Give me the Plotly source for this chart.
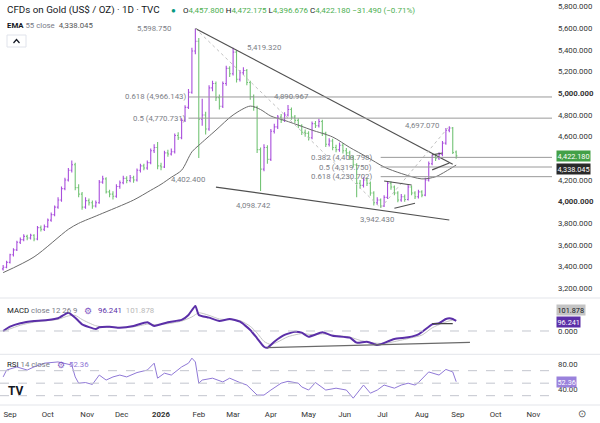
import pandas as pd
import plotly.graph_objects as go
from plotly.subplots import make_subplots

# Gold CFD, one bar per 2 sessions, 26 Aug 2025 -> 31 Aug 2026
opens = [3380, 3395, 3440, 3510, 3555, 3625, 3650, 3680, 3665, 3690,
         3655, 3760, 3745, 3770, 3830, 3880, 3950, 4015, 4120, 4200,
         4290, 4340, 4130, 4070, 3950, 4010, 3990, 3960, 3990, 4180,
         4210, 4090, 4070, 4050, 4140, 4175, 4215, 4195, 4220, 4200,
         4290, 4330, 4310, 4360, 4470, 4500, 4330, 4320, 4450, 4440,
         4460, 4610, 4590, 4750, 4870, 5010, 5390, 5480, 4760, 4800,
         4670, 5050, 5090, 4960, 4880, 5090, 5230, 5180, 5380, 5130,
         5190, 5210, 5100, 4970, 4870, 4480, 4300, 4500, 4390, 4650,
         4690, 4780, 4750, 4800, 4850, 4780, 4750, 4700, 4640, 4630,
         4590, 4720, 4700, 4740, 4630, 4530, 4560, 4500, 4480, 4520,
         4470, 4450, 4410, 4340, 4170, 4150, 4200, 4170, 4080, 3990,
         4015, 3960, 4040, 4170, 4135, 4080, 4015, 4045, 4020, 4135,
         4080, 4045, 4090, 4060, 4200, 4350, 4410, 4400, 4435, 4540,
         4660, 4680, 4457.80]
highs = [3415, 3455, 3520, 3570, 3640, 3670, 3700, 3695, 3705, 3700,
         3775, 3780, 3790, 3845, 3900, 3965, 4040, 4140, 4220, 4310,
         4381, 4360, 4160, 4090, 4040, 4030, 4010, 4010, 4200, 4240,
         4225, 4110, 4095, 4160, 4195, 4240, 4235, 4245, 4240, 4305,
         4350, 4350, 4380, 4490, 4530, 4550, 4360, 4470, 4480, 4490,
         4630, 4640, 4770, 4890, 5040, 5420, 5598.75, 5510, 4950, 4830,
         5075, 5115, 5110, 4990, 5110, 5255, 5250, 5419.32, 5395, 5215,
         5240, 5225, 5115, 4990, 4885, 4500, 4530, 4520, 4670, 4720,
         4800, 4810, 4825, 4890.967, 4870, 4800, 4770, 4715, 4665, 4650,
         4740, 4745, 4765, 4755, 4645, 4585, 4580, 4525, 4545, 4540,
         4495, 4470, 4425, 4355, 4200, 4225, 4220, 4185, 4095, 4040,
         4030, 4060, 4190, 4185, 4150, 4095, 4070, 4065, 4155, 4150,
         4095, 4110, 4105, 4220, 4370, 4435, 4440, 4455, 4560, 4680,
         4697.07, 4690, 4472.175]
lows = [3365, 3385, 3430, 3495, 3545, 3610, 3635, 3645, 3650, 3635,
        3645, 3725, 3730, 3760, 3815, 3865, 3935, 4000, 4105, 4185,
        4270, 4105, 4040, 3925, 3935, 3965, 3935, 3945, 3980, 4165,
        4075, 4040, 4020, 4035, 4120, 4160, 4170, 4180, 4175, 4185,
        4270, 4290, 4295, 4345, 4450, 4300, 4290, 4310, 4415, 4425,
        4445, 4570, 4575, 4735, 4855, 4995, 5360, 4402.4, 4700, 4620,
        4655, 5020, 4930, 4850, 4865, 5070, 5150, 5165, 5100, 5110,
        5170, 5075, 4940, 4840, 4450, 4098.742, 4280, 4350, 4375, 4630,
        4670, 4725, 4735, 4785, 4755, 4725, 4680, 4615, 4600, 4565,
        4575, 4680, 4685, 4605, 4505, 4510, 4475, 4455, 4460, 4445,
        4425, 4385, 4315, 4040, 4120, 4130, 4145, 4055, 3965, 3970,
        3942.43, 3950, 4025, 4110, 4060, 3995, 4000, 4000, 4010, 4060,
        4025, 4030, 4040, 4050, 4185, 4335, 4375, 4385, 4420, 4525,
        4640, 4440, 4396.676]
closes = [3395, 3440, 3510, 3555, 3625, 3650, 3680, 3665, 3690, 3655,
          3760, 3745, 3770, 3830, 3880, 3950, 4015, 4120, 4200, 4290,
          4340, 4130, 4070, 3950, 4010, 3990, 3960, 3990, 4180, 4210,
          4090, 4070, 4050, 4140, 4175, 4215, 4195, 4220, 4200, 4290,
          4330, 4310, 4360, 4470, 4500, 4330, 4320, 4450, 4440, 4460,
          4610, 4590, 4750, 4870, 5010, 5390, 5480, 4760, 4800, 4670,
          5050, 5090, 4960, 4880, 5090, 5230, 5180, 5380, 5130, 5190,
          5210, 5100, 4970, 4870, 4480, 4300, 4500, 4390, 4650, 4690,
          4780, 4750, 4800, 4850, 4780, 4750, 4700, 4640, 4630, 4590,
          4720, 4700, 4740, 4630, 4530, 4560, 4500, 4480, 4520, 4470,
          4450, 4410, 4340, 4170, 4150, 4200, 4170, 4080, 3990, 4015,
          3960, 4040, 4170, 4135, 4080, 4015, 4045, 4020, 4135, 4080,
          4045, 4090, 4060, 4200, 4350, 4410, 4400, 4435, 4540, 4660,
          4680, 4453.67, 4422.18]

dates = pd.bdate_range(end="2026-08-31", periods=2 * len(closes) - 1)[::2]

# EMA 55 (bar index -> value)
ema_idx = [0, 9, 19, 22, 28, 38, 43, 46, 49, 52, 55, 57, 62, 67, 72, 75, 78, 82, 87, 90,
           96, 101, 106, 111, 116, 122, 126, 129, 132]
ema_val = [3345, 3490, 3745, 3800, 3880, 4015, 4105, 4160, 4225, 4290, 4460, 4520, 4660, 4800,
           4882, 4850, 4790, 4750, 4695, 4660, 4597, 4500, 4412, 4320, 4260, 4210, 4230, 4280,
           4338.045]

# MACD 12 26 9
macd_idx = [0, 2, 5, 9, 13, 16, 18, 19, 21, 23, 27, 28, 31, 34, 38, 42, 44, 48, 52, 54,
            56, 57, 60, 63, 66, 69, 72, 74, 76, 77, 79, 82, 85, 87, 89, 93, 96, 101, 103, 106,
            109, 110, 114, 118, 121, 125, 127, 129, 130, 131, 132]
macd_val = [0, 41, 74, 96, 106, 122, 160, 176, 128, 64, 19, 36, 41, 32, 48, 84, 48, 84, 106, 154,
            240, 154, 128, 96, 115, 89, 10, -70, -151, -160, -103, -38, -7, -16, -55, -13, -45,
            -64, -112, -103, -135, -128, -77, -61, -32, 64, 74, 115, 122, 115, 96.241]
sig_idx = [0, 5, 9, 13, 16, 19, 21, 23, 27, 31, 38, 42, 44, 48, 52, 55, 57, 60, 63, 66,
           69, 72, 74, 76, 78, 80, 83, 87, 90, 93, 96, 101, 104, 108, 111, 115, 119, 122, 125, 128,
           131, 132]
sig_val = [-5, 55, 85, 100, 112, 145, 150, 110, 50, 35, 40, 65, 62, 70, 95, 135, 175, 150, 115, 108,
           100, 45, -20, -100, -130, -105, -55, -25, -35, -28, -40, -58, -90, -115, -120, -95, -65,
           -40, 30, 75, 105, 101.878]

# RSI 14
rsi_idx = [0, 1, 4, 7, 9, 12, 16, 20, 21, 22, 24, 26, 28, 30, 32, 34, 36, 39, 42, 44,
           45, 47, 49, 52, 54, 55, 56, 57, 58, 61, 64, 66, 69, 71, 74, 76, 78, 81, 83, 86,
           87, 89, 91, 94, 97, 100, 102, 105, 107, 109, 111, 114, 116, 118, 120, 121, 124, 125,
           127, 129, 131, 132]
rsi_val = [60, 71, 76, 71, 76, 82, 84, 79, 60, 50, 51, 48, 63, 55, 60, 63, 60, 67, 71, 82,
           58, 66, 63, 76, 82, 90, 84, 50, 55, 58, 52, 58, 51, 47, 31, 31, 39, 50, 53, 50,
           44, 39, 51, 39, 42, 39, 26, 47, 34, 39, 47, 42, 47, 50, 47, 51, 68, 66, 63, 72,
           68, 52.36]

month_ticks = ["2025-09-01", "2025-10-01", "2025-11-03", "2025-12-01", "2026-01-01",
               "2026-02-02", "2026-03-02", "2026-04-01", "2026-05-01", "2026-06-01",
               "2026-07-01", "2026-08-03", "2026-09-01", "2026-10-01", "2026-11-02"]
month_text = ["Sep", "Oct", "Nov", "Dec", "<b>2026</b>", "Feb", "Mar", "Apr", "May", "Jun",
              "Jul", "Aug", "Sep", "Oct", "Nov"]
# 4,400 sits under the last-price tag, so it's not shown
price_ticks = [3200, 3400, 3600, 3800, 4000, 4200, 4600, 4800, 5000, 5200, 5400, 5600, 5800]

UP = "#a94fdc"
DOWN = "#74c476"
GREEN = "#4caf50"
DRAW = "#505050"
FIB = "#9a9a9a"
GREY_TXT = "#7b7e86"
X_END = "2026-11-16 20:00"
xr = ["2025-08-22 04:00", X_END]


def px(x):
    return x / 552


def py(y):
    return (405 - y) / 405


fig = make_subplots(rows=3, cols=1, shared_xaxes=True, vertical_spacing=0)

fig.add_trace(go.Ohlc(x=dates, open=opens, high=highs, low=lows, close=closes,
                      increasing=dict(line=dict(color=UP, width=1.1)),
                      decreasing=dict(line=dict(color=DOWN, width=1.1)),
                      tickwidth=0.35, hoverinfo="skip"), row=1, col=1)
fig.add_trace(go.Scatter(x=dates[ema_idx], y=ema_val, mode="lines",
                         line=dict(color="#6b6b6b", width=1, shape="spline", smoothing=0.8)),
              row=1, col=1)

fig.add_trace(go.Scatter(x=dates[sig_idx], y=sig_val, mode="lines",
                         line=dict(color="#c4c4c4", width=1, shape="spline", smoothing=0.6)),
              row=2, col=1)
fig.add_trace(go.Scatter(x=dates[macd_idx], y=macd_val, mode="lines",
                         line=dict(color="#5b2fa8", width=2, shape="spline", smoothing=0.5)),
              row=2, col=1)

fig.add_trace(go.Scatter(x=dates[rsi_idx], y=rsi_val, mode="lines",
                         line=dict(color="#8f78d6", width=1)), row=3, col=1)


def seg(x0, y0, x1, y1, xref="x", yref="y", color=DRAW, width=1.2, dash="solid"):
    fig.add_shape(type="line", x0=x0, y0=y0, x1=x1, y1=y1, xref=xref, yref=yref,
                  line=dict(color=color, width=width, dash=dash), layer="above")


# trend lines
seg(dates[56], 5598.75, dates[131], 4345)
seg(dates[62], 4135, dates[130], 3831)
# fib diagonals
seg(dates[56], 5598.75, dates[110], 3942.43, color="#c2c2c2", width=1, dash="dot")
seg(dates[110], 3942.43, dates[130], 4697.07, color="#c2c2c2", width=1, dash="dot")
# fib levels
for lvl in [4966.143, 4770.731]:
    seg(dates[54], lvl, X_END, lvl, color=FIB, width=1)
for lvl in [4408.798, 4319.750, 4230.702]:
    seg(dates[110], lvl, X_END, lvl, color=FIB, width=1)
# small pennants
seg(dates[111], 4191, dates[119], 4154)
seg(dates[114], 3939, dates[120], 3985)
seg(dates[125], 4431, dates[128], 4449)
seg(dates[125], 4293, dates[130], 4357)
# MACD drawings
seg(dates[77], -160, "2026-09-10", -109, xref="x2", yref="y2", color="#6a6a6a", width=1.2)
seg(dates[125], 70, dates[131], 70, xref="x2", yref="y2", color="#444", width=1.2)

# dashed reference lines
seg(xr[0], 0, X_END, 0, xref="x2", yref="y2", color="#c3c6ce", width=1, dash="dash")
for lvl in [70, 50, 30]:
    seg(xr[0], lvl, X_END, lvl, xref="x3", yref="y3", color="#c3c6ce", width=1, dash="dash")

# pane separators
for yy in [298, 354.3, 405]:
    fig.add_shape(type="line", xref="paper", yref="paper", x0=0, x1=px(600), y0=py(yy), y1=py(yy),
                  line=dict(color="#e3e5ea", width=1))


def note(text, i, y, xanchor="center", yref="y", xref="x", color=GREY_TXT, size=7.8):
    fig.add_annotation(x=dates[i], y=y, xref=xref, yref=yref, text=text, showarrow=False,
                       xanchor=xanchor, yanchor="middle", font=dict(size=size, color=color))


note("5,598.750", 44, 5594)
note("5,419.320", 76, 5427)
note("4,890.967", 84, 4972)
note("4,402.400", 54, 4200)
note("4,098.742", 73, 3963)
note("3,942.430", 109, 3831)
note("4,697.070", 122, 4705)
note("0.618 (4,966.143)", 54, 4966.143, xanchor="right")
note("0.5 (4,770.731)", 54, 4770.731, xanchor="right")
note("0.382 (4,408.798)", 108, 4408.798, xanchor="right")
note("0.5 (4,319.750)", 108, 4319.75, xanchor="right")
note("0.618 (4,230.702)", 108, 4230.702, xanchor="right")


def box(text, y, yref, bg, fg="white"):
    fig.add_annotation(x=px(555.5), y=y, xref="paper", yref=yref, text=text, showarrow=False,
                       xanchor="left", yanchor="middle", bgcolor=bg, borderpad=0.5,
                       font=dict(size=7.3, color=fg))


box("4,422.180", 4422, "y", "#43a047")
box("4,338.045", 4298, "y", "#2a2a2a")
box("101.878", 202, "y2", "#c4c4c4", fg="#131722")
box("96.241", 88, "y2", "#5b2fa8")
box("52.36", 51.9, "y3", "#9a82dc")


def head(text, x, y, size=8, color="#131722"):
    fig.add_annotation(x=px(x), y=py(y), xref="paper", yref="paper", text=text, showarrow=False,
                       xanchor="left", yanchor="middle", font=dict(size=size, color=color))


def g(v):
    return f"<span style='color:{GREEN}'>{v}</span>"


head("CFDs on Gold (US$ / OZ) · 1D · TVC", 5, 10, size=9.8)
head("<span style='color:#089981'>●</span>", 168.5, 10, size=8)
head("O" + g("4,457.800") + " H" + g("4,472.175") + " L" + g("4,396.676") + " C" + g("4,422.180")
     + " " + g("−31.490 (−0.71%)"), 181, 10, size=8)
head("<b>EMA</b> <span style='color:#787b86'>55 close</span>  <span style='color:#555'>4,338.045</span>",
     5, 25, size=7.8)
head("MACD <span style='color:#787b86'>close 12 26 9</span>", 5, 310.7, size=7.8)
head("<span style='color:#7e57c2'>⚙</span>", 82, 310.7, size=9)
head("<span style='color:#5b2fa8'>96.241</span>  <span style='color:#b8b8b8'>101.878</span>",
     96, 310.7, size=7.8)
head("RSI <span style='color:#787b86'>14 close</span>", 5, 364.7, size=7.8)
head("<span style='color:#7e57c2'>⚙</span>", 55, 364.7, size=9)
head("<span style='color:#8f78d6'>52.36</span>", 67, 364.7, size=7.8)
head("<b>TV</b>", 6, 390.5, size=12)

# collapse button
fig.add_shape(type="rect", xref="paper", yref="paper", x0=px(7), x1=px(26), y0=py(47), y1=py(35),
              line=dict(color="#e0e3eb", width=1), fillcolor="white")
fig.add_shape(type="path", xref="paper", yref="paper",
              path=f"M {px(13.5)},{py(43)} L {px(16.5)},{py(39.5)} L {px(19.5)},{py(43)}",
              line=dict(color="#131722", width=1.2))
# settings icon
fig.add_annotation(x=px(582), y=py(413), xref="paper", yref="paper", text="⊙", showarrow=False,
                   xanchor="center", yanchor="middle", font=dict(size=10, color="#555"))

price_text = [f"<b>{v:,.3f}</b>" if v in (4000, 5000) else f"{v:,.3f}" for v in price_ticks]

fig.update_layout(
    width=600, height=423, margin=dict(l=0, r=48, t=0, b=18, autoexpand=False),
    paper_bgcolor="white", plot_bgcolor="white", showlegend=False,
    font=dict(family="Roboto", size=8, color="#131722"),
    yaxis=dict(domain=[0.2642, 1], range=[3111, 5861], tickvals=price_ticks, ticktext=price_text),
    yaxis2=dict(domain=[0.1259, 0.263], range=[-221, 312], tickvals=[0], ticktext=["0.000"]),
    yaxis3=dict(domain=[0, 0.1247], range=[15.1, 95.9], tickvals=[40, 80], ticktext=["40.00", "80.00"]),
)
fig.update_xaxes(range=xr, rangebreaks=[dict(bounds=["sat", "mon"])], rangeslider_visible=False,
                 showgrid=False, zeroline=False, showline=False, ticks="", automargin=False)
fig.update_xaxes(tickvals=month_ticks, ticktext=month_text, tickfont=dict(size=7.8, color="#333"),
                 ticklabelstandoff=3, row=3, col=1)
fig.update_yaxes(side="right", showgrid=False, zeroline=False, showline=False, ticks="",
                 tickfont=dict(size=7.8, color="#333"), ticklabelstandoff=5, automargin=False)

# the page's default 8px body margin would push the figure off the window
fig.write_html("out.html", config={"displayModeBar": False},
               post_script="document.body.style.margin='0px';")
